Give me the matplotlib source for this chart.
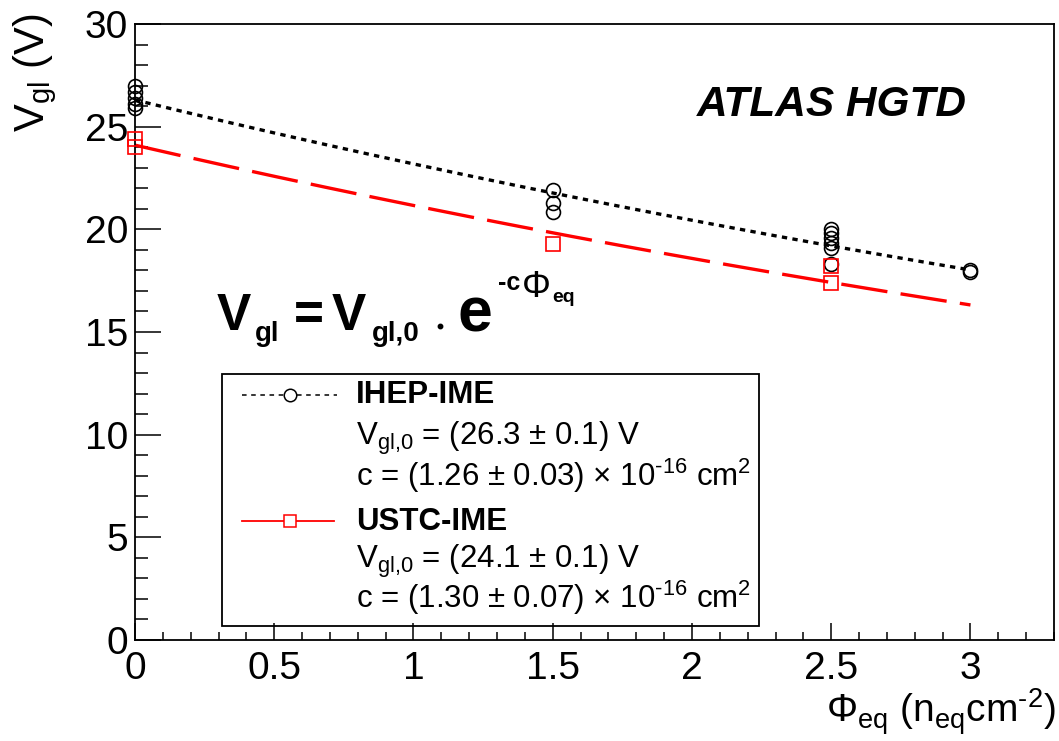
import matplotlib
matplotlib.use('Agg')
import matplotlib.pyplot as plt
import numpy as np
from matplotlib.ticker import MultipleLocator
from matplotlib.patches import Rectangle
from matplotlib.lines import Line2D

plt.rcParams['font.family'] = ['Liberation Sans', 'DejaVu Sans']
plt.rcParams['mathtext.default'] = 'regular'

# ---- data ----
ihep_fluence = [0, 0, 0, 0, 0, 1.5, 1.5, 1.5, 2.5, 2.5, 2.5, 2.5, 2.5, 2.5, 3, 3]
ihep_vgl = [27.0, 26.7, 26.4, 26.1, 25.9, 21.9, 21.3, 20.85, 20.0, 19.8, 19.6, 19.35, 19.1, 18.3, 17.9, 18.0]
ustc_fluence = [0, 0, 1.5, 2.5, 2.5]
ustc_vgl = [24.4, 24.0, 19.3, 18.2, 17.4]

ihep_v0, ihep_c = 26.3, 1.26   # V, 1e-16 cm^2
ustc_v0, ustc_c = 24.1, 1.30
fit_range = (0.0, 3.0)         # 1e15 neq/cm^2

xticks = [0, 0.5, 1, 1.5, 2, 2.5, 3]
yticks = [0, 5, 10, 15, 20, 25, 30]

HY = '\u2010'  # short hyphen used in superscripts

W, H = 1059, 741
fig = plt.figure(figsize=(W / 100, H / 100), dpi=100)

def fx(px):
    return px / W

def fy(py):
    return 1 - py / H

L, R, T, B = 135, 1054, 24, 640
ax = fig.add_axes([fx(L), fy(B), fx(R) - fx(L), fy(T) - fy(B)])

xf = np.linspace(fit_range[0], fit_range[1], 300)
ax.plot(xf, ihep_v0 * np.exp(-ihep_c * 0.1 * xf), color='black', lw=2.4,
        dashes=(1.6, 1.6), zorder=2)
ax.plot(xf, ustc_v0 * np.exp(-ustc_c * 0.1 * xf), color='#ff0000', lw=2.4,
        dashes=(14, 4), zorder=2)

ax.plot(ihep_fluence, ihep_vgl, 'o', ms=10, mfc='none', mec='black', mew=1.2, zorder=3,
        clip_on=False)
ax.plot(ustc_fluence, ustc_vgl, 's', ms=10, mfc='none', mec='#ff0000', mew=1.2, zorder=3,
        clip_on=False)

ax.set_xlim(0, 3.3)
ax.set_ylim(0, 30)
ax.set_xticks(xticks)
ax.set_xticklabels([f'{t:g}' for t in xticks])
ax.set_yticks(yticks)
ax.set_yticklabels([f'{t:g}' for t in yticks])
ax.xaxis.set_minor_locator(MultipleLocator(0.1))
ax.yaxis.set_minor_locator(MultipleLocator(1))
ax.tick_params(axis='both', which='both', direction='in', top=False, right=False,
               width=1.1, colors='black', labelsize=28)
ax.tick_params(axis='x', which='major', length=12, pad=8)
ax.tick_params(axis='x', which='minor', length=6)
ax.tick_params(axis='y', which='major', length=19, pad=5)
ax.tick_params(axis='y', which='minor', length=9)
for s in ax.spines.values():
    s.set_linewidth(1.3)

# axis titles
fig.text(fx(35), fy(14), '$V_{gl}$ (V)', rotation=90, ha='center', va='top', fontsize=30)
fig.text(fx(1056), fy(712), f'Φ$_{{eq}}$ (n$_{{eq}}$cm$^{{{HY}2}}$)', ha='right', va='center',
         fontsize=28)

# annotations
fig.text(fx(697), fy(105), 'ATLAS HGTD', fontsize=30.5, fontweight='bold', fontstyle='italic',
         ha='left', va='center')

# formula  V_gl = V_gl,0 · e^{-cΦ_eq}, composed piece by piece
formula_pieces = [
    # text, x px, baseline px, size, weight
    ('V', 217, 330, 37, 'bold'),
    ('gl', 255, 341, 20, 'bold'),
    ('=', 294, 330, 37, 'bold'),
    ('V', 332, 330, 37, 'bold'),
    ('gl,0', 372, 341, 20, 'bold'),
    ('e', 457, 331, 45, 'bold'),
    ('-c', 498, 290, 18, 'bold'),
    ('Φ', 522, 297, 26, 'normal'),
    ('eq', 552, 302, 14, 'bold'),
]
for txt, px, py, size, wt in formula_pieces:
    fig.text(fx(px), fy(py), txt, fontsize=size, fontweight=wt, ha='left', va='baseline')
fig.add_artist(Line2D([fx(440)], [fy(326)], transform=fig.transFigure, marker='o', ms=3.2,
                      mfc='black', mec='black', ls='none'))

# legend
fig.add_artist(Rectangle((fx(222), fy(626)), fx(759) - fx(222), fy(374) - fy(626),
                         transform=fig.transFigure, fill=False, ec='black', lw=1.3))
fig.add_artist(Line2D([fx(242), fx(337)], [fy(395), fy(395)], transform=fig.transFigure,
                      color='black', lw=1.1, dashes=(3, 3)))
fig.add_artist(Line2D([fx(290)], [fy(395)], transform=fig.transFigure, marker='o', ms=9,
                      mfc='white', mec='black', mew=1.1, ls='none'))
fig.add_artist(Line2D([fx(242), fx(334)], [fy(521), fy(521)], transform=fig.transFigure,
                      color='#ff0000', lw=1.3))
fig.add_artist(Line2D([fx(290)], [fy(521)], transform=fig.transFigure, marker='s', ms=9,
                      mfc='white', mec='#ff0000', mew=1.1, ls='none'))

tx = fx(356)
fs = 22.5
fig.text(tx, fy(403), 'IHEP-IME', fontsize=fs, fontweight='bold', va='baseline')
fig.text(tx, fy(445), f'$V_{{gl{{,}}0}}$ = ({ihep_v0} ± 0.1) V', fontsize=fs, va='baseline')
fig.text(tx, fy(486), f'c = ({ihep_c:.2f} ± 0.03) × 10$^{{{HY}16}}$ cm$^{{2}}$', fontsize=fs,
         va='baseline')
fig.text(tx, fy(530), 'USTC-IME', fontsize=fs, fontweight='bold', va='baseline')
fig.text(tx, fy(568), f'$V_{{gl{{,}}0}}$ = ({ustc_v0} ± 0.1) V', fontsize=fs, va='baseline')
fig.text(tx, fy(608), f'c = ({ustc_c:.2f} ± 0.07) × 10$^{{{HY}16}}$ cm$^{{2}}$', fontsize=fs,
         va='baseline')

fig.savefig('out.png', dpi=100)
